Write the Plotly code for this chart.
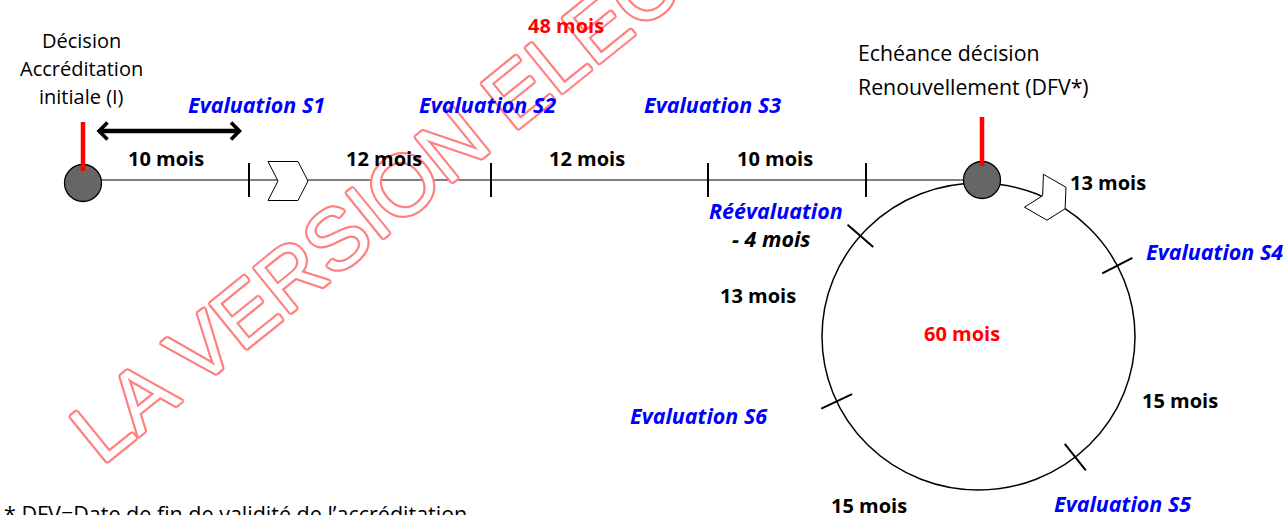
import math
import plotly.graph_objects as go

# ---------------- data ----------------
phase1_segment_months = [10, 12, 12, 10]        # durations along the initial timeline
reevaluation_offset_months = 4                  # "- 4 mois" before the renewal decision
phase1_total_months = 48
cycle_segment_months = [13, 15, 15, 13]         # durations around the renewal cycle
cycle_total_months = 60
eval_labels_phase1 = ["Evaluation S1", "Evaluation S2", "Evaluation S3"]
eval_labels_cycle = ["Evaluation S4", "Evaluation S5", "Evaluation S6"]
start_label = ["Décision", "Accréditation", "initiale (I)"]
renewal_label = ["Echéance décision", "Renouvellement (DFV*)"]
reeval_label = "Réévaluation"
footnote = "* DFV=Date de fin de validité de l’accréditation"
watermark = "LA VERSION ELECTRONIQUE FAIT FOI"

# ---------------- layout geometry (diagram space, pixels-like units) ----------------
W, H = 1283, 515
FONT = "Open Sans"
BLUE = "#0000FF"
RED = "#FF0000"
NODE_FILL = "#666666"

line_y = 180
start_node = (83, 183)
end_node = (982, 180)
node_r = 18.5
tick_xs = [249, 491, 708, 866]
seg_label_x = [166, 384, 587, 775]
eval1_label_x = [256, 487, 712]
cyc_c = (978.5, 336.5)
cyc_rx, cyc_ry = 156.5, 153.5
cycle_tick_angles = [27.5, -51.8, -155.0, 139.0]   # S4, S5, S6, Réévaluation

shapes = []
annotations = []


def add_line(x0, y0, x1, y1, color="black", width=1.5):
    shapes.append(dict(type="line", xref="x", yref="y", x0=x0, y0=y0, x1=x1, y1=y1,
                       line=dict(color=color, width=width)))


def add_text(x, y, s, size=20, color="black", bold=False, italic=False,
             xanchor="center", yanchor="middle"):
    annotations.append(dict(
        x=x, y=y, xref="x", yref="y", text=s, showarrow=False,
        xanchor=xanchor, yanchor=yanchor,
        font=dict(family=FONT, size=size, color=color,
                  weight="bold" if bold else "normal",
                  style="italic" if italic else "normal")))


def chevron_path(cx, cy, ang_deg, L, Hh, tip, notch):
    a = math.radians(ang_deg)
    ux, uy = math.cos(a), math.sin(a)
    vx, vy = -uy, ux
    local = [(-L / 2, -Hh / 2), (L / 2 - tip, -Hh / 2), (L / 2, 0),
             (L / 2 - tip, Hh / 2), (-L / 2, Hh / 2), (-L / 2 + notch, 0)]
    pts = [(cx + px * ux + py * vx, cy + px * uy + py * vy) for px, py in local]
    return "M " + " L ".join(f"{x:.2f},{y:.2f}" for x, y in pts) + " Z"


# watermark first so everything else sits on top of it
outline = "#FF8080"
sh = ", ".join(f"{dx}px {dy}px 0 {outline}" for dx, dy in
               [(2.2, 0), (-2.2, 0), (0, 2.2), (0, -2.2), (1.6, 1.6), (-1.6, -1.6), (1.6, -1.6), (-1.6, 1.6)])
annotations.append(dict(
    x=692 / W, y=1 + 49 / H, xref="paper", yref="paper", text=watermark, showarrow=False,
    xanchor="center", yanchor="middle", textangle=-39,
    font=dict(family="Liberation Sans", size=85, color="white", shadow=sh)))

# timeline
add_line(start_node[0], line_y, end_node[0], line_y, width=1.2)
for tx in tick_xs:
    add_line(tx, line_y - 17, tx, line_y + 17, width=2)

# timeline chevron
shapes.append(dict(type="path", xref="x", yref="y",
                   path=chevron_path(288, 181, 0, 40, 39, 10, 10),
                   fillcolor="white", line=dict(color="black", width=1)))

# renewal cycle (ellipse)
shapes.append(dict(type="circle", xref="x", yref="y",
                   x0=cyc_c[0] - cyc_rx, x1=cyc_c[0] + cyc_rx,
                   y0=cyc_c[1] - cyc_ry, y1=cyc_c[1] + cyc_ry,
                   line=dict(color="black", width=1.5)))
for ang in cycle_tick_angles:
    a = math.radians(ang)
    px, py = cyc_c[0] + cyc_rx * math.cos(a), cyc_c[1] - cyc_ry * math.sin(a)
    dx, dy = math.cos(a), -math.sin(a)
    add_line(px - 17 * dx, py - 17 * dy, px + 17 * dx, py + 17 * dy, width=2)

# cycle chevron
ca = math.radians(63)
ccx, ccy = cyc_c[0] + cyc_rx * math.cos(ca), cyc_c[1] - cyc_ry * math.sin(ca)
shapes.append(dict(type="path", xref="x", yref="y",
                   path=chevron_path(ccx, ccy, 30, 36, 38, 10, 10),
                   fillcolor="white", line=dict(color="black", width=1)))

# nodes
for (nx, ny) in (start_node, end_node):
    shapes.append(dict(type="circle", xref="x", yref="y",
                       x0=nx - node_r, x1=nx + node_r, y0=ny - node_r, y1=ny + node_r,
                       fillcolor=NODE_FILL, line=dict(color="black", width=1.3)))
add_line(start_node[0], 122, start_node[0], 171, color=RED, width=4.5)
add_line(end_node[0], 117, end_node[0], 166, color=RED, width=4.5)

# double arrow over first period
annotations.append(dict(x=242, y=131, ax=95, ay=131, xref="x", yref="y", axref="x", ayref="y",
                        text="", showarrow=True, arrowside="end+start",
                        arrowhead=4, startarrowhead=4, arrowwidth=4.5,
                        arrowsize=0.72, startarrowsize=0.72, arrowcolor="black",
                        standoff=0, startstandoff=0))

# texts: start node
for i, s in enumerate(start_label):
    add_text(81, 40 + 28 * i, s)
# renewal node
for i, s in enumerate(renewal_label):
    add_text(856, 52 + 34 * i, s, size=21.3, xanchor="left")

# segment durations
for x, m in zip(seg_label_x, phase1_segment_months):
    add_text(x, 158, f"{m} mois", bold=True)
for x, s in zip(eval1_label_x, eval_labels_phase1):
    add_text(x, 104, s, size=21.5, color=BLUE, bold=True, italic=True)

add_text(566, 25, f"{phase1_total_months} mois", color=RED, bold=True)
add_text(776, 210, reeval_label, size=21.5, color=BLUE, bold=True, italic=True)
add_text(771, 238, f"- {reevaluation_offset_months} mois", size=21.5, bold=True, italic=True)

# cycle labels
cycle_seg_pos = [(1108, 182), (1180, 400), (869, 505), (758, 295)]
for (x, y), m in zip(cycle_seg_pos, cycle_segment_months):
    add_text(x, y, f"{m} mois", bold=True)
cycle_eval_pos = [(1214, 251), (1122, 503), (699, 415)]
for (x, y), s in zip(cycle_eval_pos, eval_labels_cycle):
    add_text(x, y, s, size=21.5, color=BLUE, bold=True, italic=True)
add_text(962, 333, f"{cycle_total_months} mois", color=RED, bold=True)

# footnote
add_text(2, 513, footnote, size=21.5, xanchor="left")

fig = go.Figure()
fig.update_layout(
    width=W, height=H, margin=dict(l=0, r=0, t=0, b=0),
    paper_bgcolor="white", plot_bgcolor="white",
    xaxis=dict(range=[0, W], visible=False, fixedrange=True),
    yaxis=dict(range=[H, 0], visible=False, fixedrange=True),
    shapes=shapes, annotations=annotations, showlegend=False,
)
fig.write_html("out.html", config={"displayModeBar": False},
               post_script="document.body.style.margin='0';document.body.style.overflow='hidden';")
